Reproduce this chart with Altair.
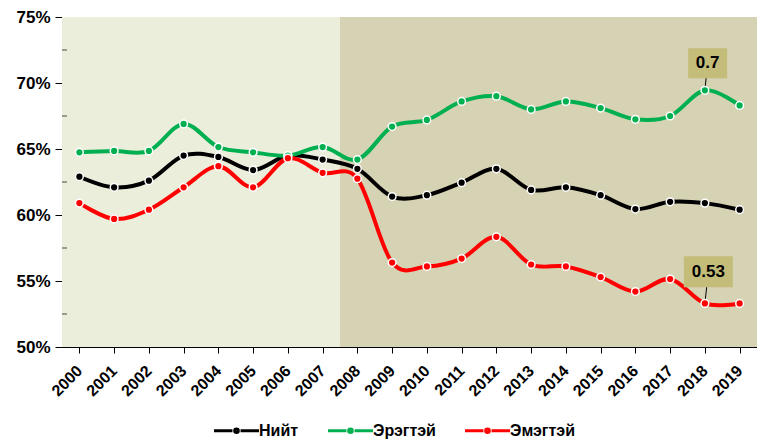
import altair as alt
import pandas as pd

years = list(range(2000, 2020))
total = [62.9, 62.1, 62.6, 64.5, 64.4, 63.4, 64.5, 64.2, 63.5, 61.4,
         61.5, 62.45, 63.5, 61.9, 62.1, 61.5, 60.45, 61.0, 60.9, 60.4]
male = [64.75, 64.85, 64.85, 66.9, 65.15, 64.75, 64.5, 65.15, 64.2, 66.7,
        67.2, 68.6, 69.0, 68.0, 68.6, 68.1, 67.25, 67.5, 69.45, 68.3]
female = [60.9, 59.7, 60.4, 62.1, 63.7, 62.1, 64.3, 63.2, 62.75, 56.4,
          56.1, 56.7, 58.35, 56.25, 56.1, 55.3, 54.2, 55.15, 53.3, 53.3]

series_names = ["Нийт", "Эрэгтэй", "Эмэгтэй"]
series_colors = ["#000000", "#00B050", "#FF0000"]

y_ticks = [50, 55, 60, 65, 70, 75]
y_minor = [52.5, 57.5, 62.5, 67.5, 72.5]

# background periods
bg_start = [1999.5, 2007.5]
bg_end = [2007.5, 2019.5]
bg_color = ["#ECEEDC", "#D6D2B4"]

# annotations
ann_year = [2018, 2018]
ann_value = [69.45, 53.3]
ann_text = ["0.7", "0.53"]
ann_label_y = [71.5, 55.7]
ann_label_x = [2018.08, 2018.1]
ann_box_w = [39, 49]
ann_box_h = [30, 31]

FONT = "Liberation Sans"

rows = []
for name, vals in zip(series_names, [total, male, female]):
    for i, (yr, v) in enumerate(zip(years, vals)):
        rows.append({"year": yr, "value": v, "series": name, "order": i})
df = pd.DataFrame(rows)

bg_df = pd.DataFrame({"x": bg_start, "x2": bg_end, "c": bg_color,
                      "y": [min(y_ticks)] * 2, "y2": [max(y_ticks)] * 2})
ann_df = pd.DataFrame({"year": ann_year, "value": ann_value, "text": ann_text,
                       "ly": ann_label_y, "lx": ann_label_x})
minor_df = pd.DataFrame({"y": y_minor, "x": [min(bg_start)] * len(y_minor)})

xscale = alt.Scale(domain=[min(bg_start), max(bg_end)], nice=False, zero=False)
yscale = alt.Scale(domain=[min(y_ticks), max(y_ticks)], nice=False, zero=False)

xaxis = alt.Axis(values=years, format="d", labelAngle=-45, labelAlign="right",
                 labelBaseline="middle", labelPadding=15, labelOverlap=False,
                 labelFlush=False, labelFont=FONT, labelFontSize=16,
                 labelFontWeight="bold", labelColor="#000", domainColor="#000",
                 tickColor="#000", tickSize=6, grid=False, title=None)
yaxis = alt.Axis(values=y_ticks, labelExpr="datum.value + '%'", labelFont=FONT,
                 labelFontSize=17, labelFontWeight="bold", labelColor="#000",
                 domainColor="#000", tickColor="#000", tickSize=7, grid=False,
                 title=None, labelPadding=5, minExtent=50, maxExtent=50)


def X(field):
    return alt.X(field, scale=xscale, axis=xaxis)


def Y(field):
    return alt.Y(field, scale=yscale, axis=yaxis)


bg = alt.Chart(bg_df).mark_rect().encode(
    x=X("x:Q"), x2="x2:Q", y=Y("y:Q"), y2="y2:Q",
    color=alt.Color("c:N", scale=None, legend=None),
)

minor = alt.Chart(minor_df).mark_tick(orient="horizontal", size=5, thickness=1,
                                      color="#000", xOffset=2.5).encode(
    x=X("x:Q"), y=Y("y:Q"))

leader = alt.Chart(ann_df).mark_rule(color="#000", strokeWidth=1).encode(
    x=X("year:Q"), x2="lx:Q", y=Y("value:Q"), y2="ly:Q")

# legend symbol: line with a dot, drawn wider than its layout box
sym_path = ("M-2.5,0H-0.45M0.45,0H2.5M0,-0.2A0.2,0.2,0,1,1,0,0.2"
            "A0.2,0.2,0,1,1,0,-0.2")

lines = alt.Chart(df).mark_line(interpolate="cardinal", tension=0,
                                strokeWidth=4).encode(
    x=X("year:Q"), y=Y("value:Q"),
    order="order:Q",
    color=alt.Color("series:N",
                    scale=alt.Scale(domain=series_names, range=series_colors),
                    legend=alt.Legend(title=None, orient="none", legendX=151,
                                      legendY=403, direction="horizontal",
                                      columns=3, symbolType=sym_path,
                                      symbolSize=324, symbolStrokeWidth=3,
                                      symbolOffset=13,
                                      labelFont=FONT, labelFontSize=16,
                                      labelFontWeight="bold", labelColor="#000",
                                      labelOffset=12, columnPadding=23,
                                      padding=0)),
)

points = alt.Chart(df).mark_circle(size=60, opacity=1, stroke="white",
                                   strokeWidth=1.5).encode(
    x=X("year:Q"), y=Y("value:Q"),
    fill=alt.Fill("series:N",
                  scale=alt.Scale(domain=series_names, range=series_colors),
                  legend=None),
)

box_list = []
for i in range(len(ann_text)):
    sub = ann_df.iloc[[i]]
    box_list.append(
        alt.Chart(sub).mark_rect(color="#C4BD7A", width=ann_box_w[i],
                                 height=ann_box_h[i]).encode(
            x=X("lx:Q"), y=Y("ly:Q")))

texts = alt.Chart(ann_df).mark_text(font=FONT, fontSize=17, fontWeight="bold",
                                    color="#000", align="center",
                                    baseline="middle").encode(
    x=X("lx:Q"), y=Y("ly:Q"), text="text:N")

chart = alt.layer(bg, minor, leader, lines, points, *box_list, texts).resolve_scale(
    color="independent"
).properties(
    width=695, height=330,
    padding={"left": 4, "top": 0, "right": 0, "bottom": 0},
).configure_view(stroke="#404040", strokeWidth=1)

chart.save("out.html", embed_options={"renderer": "svg", "actions": False})
